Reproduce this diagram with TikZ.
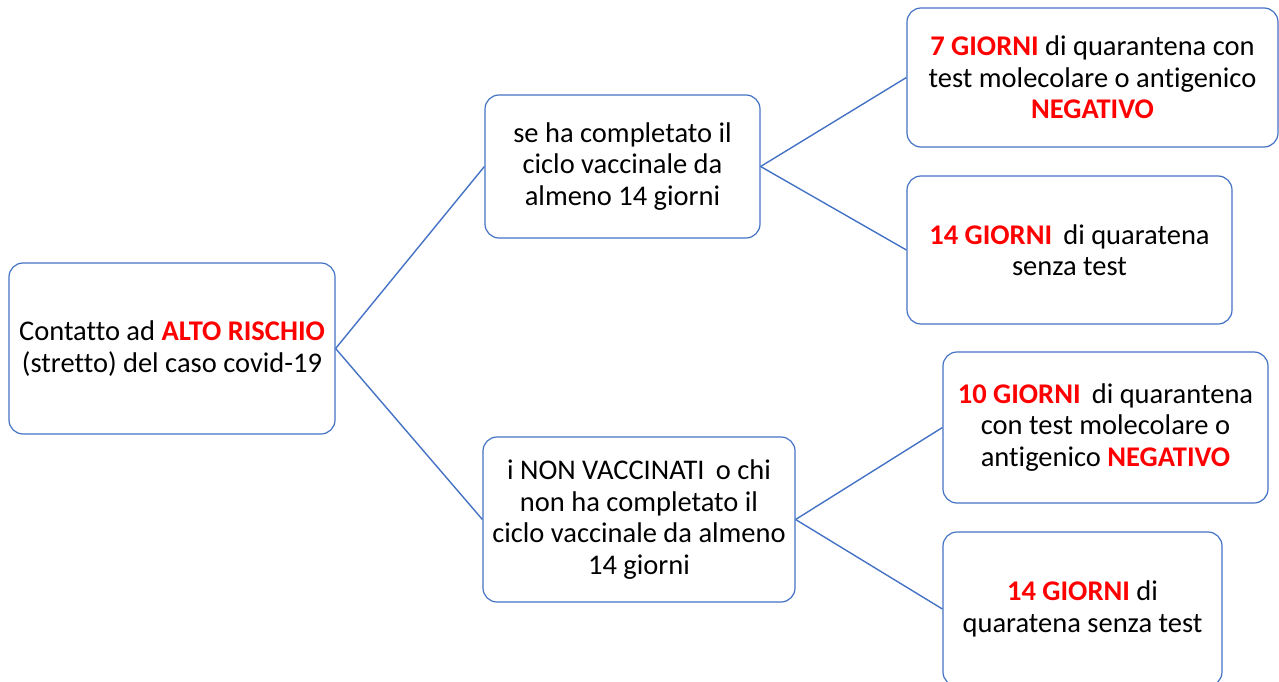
\documentclass[tikz,border=0pt]{standalone}
\usepackage{fontspec}
\setmainfont{Carlito}[Ligatures=NoCommon]
\definecolor{boxblue}{HTML}{4472C4}
\definecolor{hot}{HTML}{FF0000}
\newcommand{\hl}[1]{\textcolor{hot}{\textbf{#1}}}
\begin{document}
\begin{tikzpicture}[x=1pt,y=-1pt,
  card/.style={draw=boxblue,line width=1.2pt,rounded corners=14pt,fill=white,
    align=center,inner sep=0pt,font=\fontsize{28.5}{31.5}\selectfont},
  link/.style={draw=boxblue,line width=1.4pt}]
\useasboundingbox (0,0) rectangle (1279,682);
\clip (0,0) rectangle (1279,682);
\node[card,minimum width=326pt,minimum height=171pt] (root) at (172,348.5)
  {Contatto ad \hl{ALTO RISCHIO}\\(stretto) del caso covid-19};
\node[card,minimum width=275pt,minimum height=143pt] (m1) at (622.5,166.5)
  {se ha completato il\\ciclo vaccinale da\\almeno 14 giorni};
\node[card,minimum width=312pt,minimum height=165pt] (m2) at (639,519.5)
  {i NON VACCINATI\, o chi\\non ha completato il\\ciclo vaccinale da almeno\\14 giorni};
\node[card,minimum width=371pt,minimum height=139pt] (r1) at (1092.5,77.5)
  {\hl{7 GIORNI} di quarantena con\\test molecolare o antigenico\\\hl{NEGATIVO}};
\node[card,minimum width=325pt,minimum height=148pt] (r2) at (1069.5,250)
  {\hl{14 GIORNI}\, di quaratena\\senza test};
\node[card,minimum width=325pt,minimum height=151pt] (r3) at (1105.5,427.5)
  {\hl{10 GIORNI}\, di quarantena\\con test molecolare o\\antigenico \hl{NEGATIVO}};
\node[card,minimum width=279pt,minimum height=154pt] (r4) at (1082.5,609)
  {\hl{14 GIORNI} di\\quaratena senza test};
\draw[link] (root.east) -- (m1.west);
\draw[link] (root.east) -- (m2.west);
\draw[link] (m1.east) -- (r1.west);
\draw[link] (m1.east) -- (r2.west);
\draw[link] (m2.east) -- (r3.west);
\draw[link] (m2.east) -- (r4.west);
\end{tikzpicture}
\end{document}
